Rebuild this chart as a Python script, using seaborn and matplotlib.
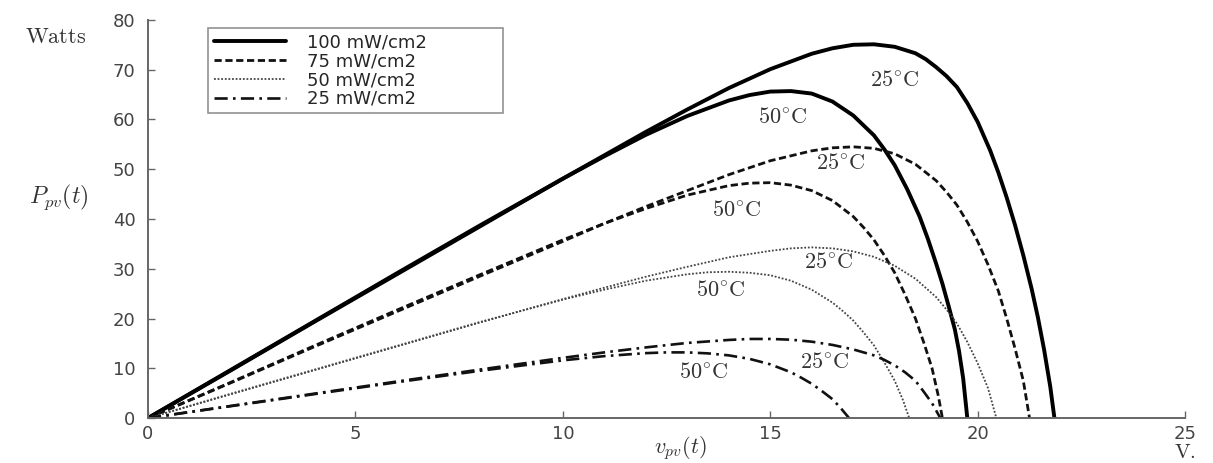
import numpy as np
import pandas as pd
import matplotlib
matplotlib.use("Agg")
import matplotlib.pyplot as plt
import seaborn as sns

# DATA (voltage V, power W)
v_100_25 = [0, 2, 4, 6, 8, 10, 12, 13, 14, 15, 16, 16.5, 17, 17.5, 18, 18.5, 18.75, 19, 19.25, 19.5, 19.75, 20, 20.3, 20.5, 20.7, 20.9, 21.1, 21.3, 21.45, 21.6, 21.75, 21.85]
p_100_25 = [0, 9.6, 19.3, 28.9, 38.5, 48.1, 57.5, 62.0, 66.3, 70.1, 73.2, 74.3, 75.0, 75.1, 74.6, 73.3, 72.1, 70.5, 68.7, 66.5, 63.3, 59.5, 53.8, 49.3, 44.3, 38.8, 32.7, 26.0, 20.3, 13.8, 6.3, 0]
v_100_50 = [0, 2, 4, 6, 8, 10, 11, 12, 13, 14, 14.5, 15, 15.5, 16, 16.5, 17, 17.5, 17.75, 18, 18.3, 18.6, 18.8, 19.0, 19.15, 19.3, 19.45, 19.55, 19.65, 19.75]
p_100_50 = [0, 9.7, 19.4, 29.1, 38.7, 48.1, 52.6, 56.9, 60.7, 63.8, 64.9, 65.6, 65.7, 65.2, 63.6, 60.8, 56.8, 54.0, 50.8, 46.0, 40.5, 36.0, 31.0, 27.0, 22.5, 17.8, 13.5, 8.0, 0]

v_75_25 = [0, 2, 4, 6, 8, 10, 11, 12, 13, 14, 15, 16, 16.5, 17, 17.5, 18, 18.5, 19, 19.25, 19.5, 19.75, 20, 20.25, 20.5, 20.7, 20.9, 21.1, 21.25]
p_75_25 = [0, 7.1, 14.3, 21.4, 28.5, 35.5, 39.1, 42.5, 45.7, 48.9, 51.7, 53.7, 54.3, 54.5, 54.2, 53.1, 51.0, 47.7, 45.4, 42.8, 39.4, 35.5, 30.8, 25.5, 20.0, 14.0, 7.5, 0]
v_75_50 = [0, 2, 4, 6, 8, 10, 11, 12, 13, 14, 14.5, 15, 15.5, 16, 16.5, 17, 17.25, 17.5, 17.75, 18, 18.25, 18.5, 18.7, 18.9, 19.05, 19.15]
p_75_50 = [0, 7.2, 14.5, 21.7, 28.8, 35.8, 39.1, 42.1, 44.8, 46.7, 47.2, 47.3, 46.8, 45.7, 43.7, 40.5, 38.3, 35.8, 32.7, 29.2, 24.8, 20.0, 15.2, 10.0, 4.5, 0]

v_50_25 = [0, 2, 4, 6, 8, 10, 11, 12, 13, 14, 15, 15.5, 16, 16.5, 17, 17.5, 18, 18.5, 19, 19.25, 19.5, 19.75, 20, 20.25, 20.45]
p_50_25 = [0, 4.8, 9.6, 14.4, 19.2, 23.9, 26.2, 28.4, 30.4, 32.3, 33.6, 34.1, 34.3, 34.1, 33.5, 32.4, 30.6, 28.0, 24.3, 21.8, 19.0, 15.3, 11.0, 6.0, 0]
v_50_50 = [0, 2, 4, 6, 8, 10, 11, 12, 13, 13.5, 14, 14.5, 15, 15.5, 16, 16.5, 16.75, 17, 17.25, 17.5, 17.75, 18, 18.2, 18.35]
p_50_50 = [0, 4.9, 9.7, 14.5, 19.3, 23.8, 25.8, 27.6, 28.9, 29.3, 29.4, 29.2, 28.7, 27.6, 25.8, 23.2, 21.5, 19.6, 17.2, 14.6, 11.2, 7.5, 3.6, 0]

v_25_25 = [0, 2, 4, 6, 8, 10, 11, 12, 13, 14, 14.5, 15, 15.5, 16, 16.5, 17, 17.5, 17.75, 18, 18.25, 18.5, 18.7, 18.9, 19.1]
p_25_25 = [0, 2.45, 4.9, 7.35, 9.75, 12.1, 13.2, 14.2, 15.1, 15.7, 15.9, 15.9, 15.75, 15.35, 14.7, 13.8, 12.6, 11.7, 10.6, 9.2, 7.5, 5.3, 3.0, 0]
v_25_50 = [0, 2, 4, 6, 8, 10, 11, 12, 12.5, 13, 13.5, 14, 14.5, 15, 15.5, 15.75, 16, 16.25, 16.5, 16.7, 16.9]
p_25_50 = [0, 2.4, 4.8, 7.2, 9.5, 11.6, 12.45, 13.05, 13.2, 13.2, 13.0, 12.6, 11.9, 10.8, 9.2, 8.1, 6.9, 5.4, 3.8, 2.0, 0]

legend_labels = ["100 mW/cm2", "75 mW/cm2", "50 mW/cm2", "25 mW/cm2"]

# temperature label positions (V, P)
temp_text = ["25", "50", "25", "50", "25", "50", "25", "50"]
temp_x = [18.0, 15.3, 16.7, 14.2, 16.4, 13.8, 16.3, 13.4]
temp_y = [68.0, 60.5, 51.3, 41.8, 31.4, 25.7, 11.3, 9.2]

sns.set_style("ticks")
plt.rcParams["font.family"] = ["DejaVu Sans"]
plt.rcParams["mathtext.fontset"] = "cm"

fig = plt.figure(figsize=(12.13, 4.63), dpi=100)
ax = fig.add_axes([0.122, 0.097, 0.855, 0.86])

styles = [
    dict(color="black", lw=2.8, linestyle="-"),
    dict(color="#111111", lw=2.0, linestyle=(0, (2.6, 1.3))),
    dict(color="#444444", lw=1.3, linestyle=(0, (1, 1))),
    dict(color="#111111", lw=1.9, linestyle=(0, (5, 2, 1, 2))),
]
curves = [
    (v_100_25, p_100_25, v_100_50, p_100_50),
    (v_75_25, p_75_25, v_75_50, p_75_50),
    (v_50_25, p_50_25, v_50_50, p_50_50),
    (v_25_25, p_25_25, v_25_50, p_25_50),
]

for (va, pa, vb, pb), st, lab in zip(curves, styles, legend_labels):
    df_a = pd.DataFrame({"V": va, "P": pa})
    df_b = pd.DataFrame({"V": vb, "P": pb})
    sns.lineplot(data=df_a, x="V", y="P", ax=ax, label=lab, **st)
    sns.lineplot(data=df_b, x="V", y="P", ax=ax, **st)

for t, x, y in zip(temp_text, temp_x, temp_y):
    ax.text(x, y, r"$\mathrm{" + t + r"^{\circ}C}$", fontsize=16, color="#333333",
            ha="center", va="center")

ax.set_xlim(0, 25)
ax.set_ylim(0, 80)
ax.set_xticks(np.arange(0, 26, 5))
ax.set_yticks(np.arange(0, 81, 10))
sns.despine(ax=ax)
for s in ["left", "bottom"]:
    ax.spines[s].set_color("#666666")
    ax.spines[s].set_linewidth(1.4)
ax.tick_params(direction="in", length=5, width=1, color="#666666",
               labelsize=13, labelcolor="#444444")
ax.tick_params(axis="x", pad=5)
ax.tick_params(axis="y", pad=9)
ax.set_xlabel("")
ax.set_ylabel("")

ax.text(-0.089, 0.957, r"$\mathrm{Watts}$", transform=ax.transAxes, fontsize=16,
        color="#333333", ha="center", va="center")
ax.text(-0.086, 0.555, r"$P_{pv}(t)$", transform=ax.transAxes, fontsize=17,
        color="#333333", ha="center", va="center")
ax.text(0.513, -0.074, r"$v_{pv}(t)$", transform=ax.transAxes, fontsize=16,
        color="#333333", ha="center", va="center")
ax.text(1.0, -0.084, r"$\mathrm{V.}$", transform=ax.transAxes, fontsize=15,
        color="#333333", ha="center", va="center")

leg = ax.legend(loc="upper left", bbox_to_anchor=(0.058, 0.78, 0.2845, 0.2),
                mode="expand", fontsize=13, frameon=True, fancybox=False,
                handlelength=4.0, handletextpad=1.2, labelspacing=0.05,
                borderpad=0.3, borderaxespad=0)
leg.get_frame().set_edgecolor("#777777")
leg.get_frame().set_linewidth(1.2)

fig.savefig("out.png", dpi=100)
